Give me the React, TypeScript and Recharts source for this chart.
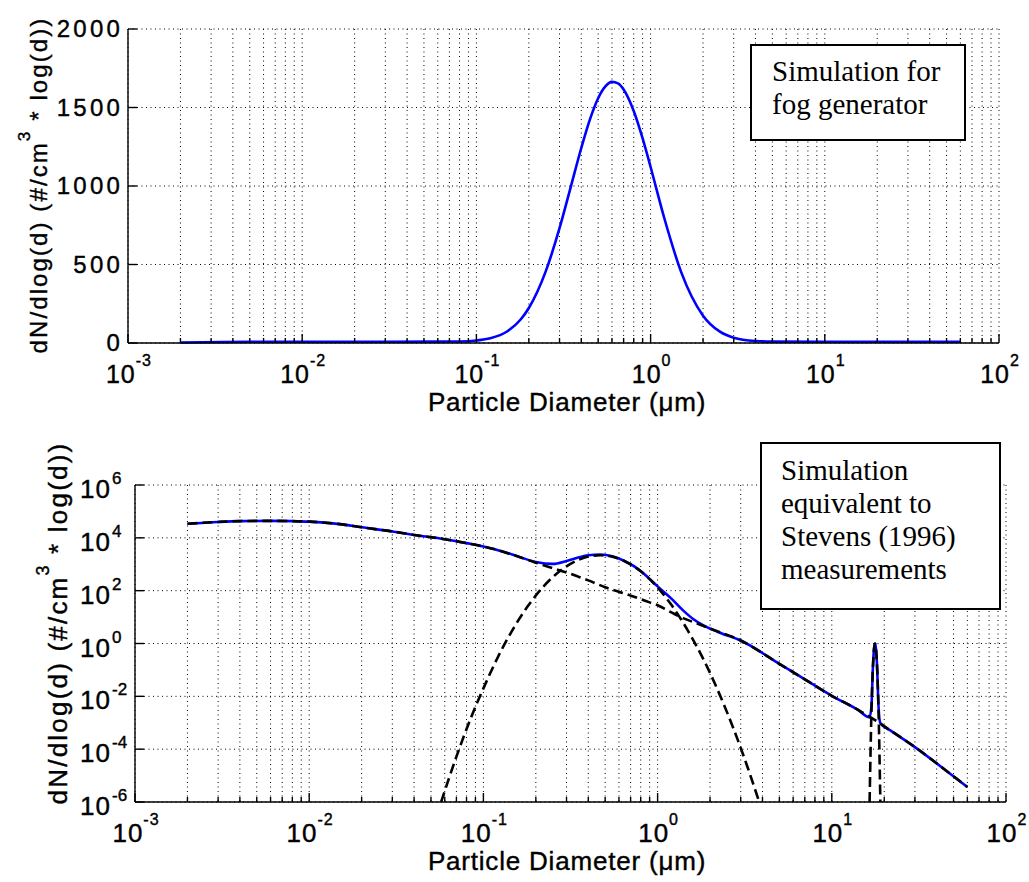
import { LineChart, Line, XAxis, YAxis, CartesianGrid, Label } from "recharts";

// x axis (particle diameter, µm) – decades and the minor ticks between them
const X_MAJOR = [0.001, 0.01, 0.1, 1, 10, 100];
const X_EXP = ["-3", "-2", "-1", "0", "1", "2"];
const X_MINOR = [
  0.002, 0.003, 0.004, 0.005, 0.006, 0.007, 0.008, 0.009,
  0.02, 0.03, 0.04, 0.05, 0.06, 0.07, 0.08, 0.09,
  0.2, 0.3, 0.4, 0.5, 0.6, 0.7, 0.8, 0.9,
  2, 3, 4, 5, 6, 7, 8, 9,
  20, 30, 40, 50, 60, 70, 80, 90,
];
const X_TICKS = [...X_MAJOR, ...X_MINOR].sort((a, b) => a - b);

// top panel: linear y
const FOG_Y_TICKS = [0, 500, 1000, 1500, 2000];

// bottom panel: log y
const LOG_Y_TICKS = [1e-6, 1e-4, 1e-2, 1, 1e2, 1e4, 1e6];
const LOG_Y_EXP = ["-6", "-4", "-2", "0", "2", "4", "6"];

// fog generator simulation
const FOG_D = [0.002, 0.005, 0.01, 0.03, 0.06, 0.08, 0.1, 0.12, 0.15, 0.18, 0.2, 0.25, 0.3, 0.35, 0.4, 0.45, 0.5, 0.55, 0.6, 0.65, 0.7, 0.8, 0.9, 1.0, 1.2, 1.5, 2.0, 2.5, 3.0, 4.0, 5.0, 10, 60];
const FOG_N = [3, 8, 8, 8, 9, 10, 16, 30, 73, 151, 223, 456, 731, 1004, 1242, 1429, 1559, 1634, 1663, 1654, 1615, 1478, 1303, 1121, 793, 450, 174, 72, 34, 13, 9, 8, 8];

// Stevens (1996) equivalent: total
const TOTAL_D = [0.002, 0.003, 0.004, 0.006, 0.008, 0.01, 0.015, 0.02, 0.03, 0.04, 0.06, 0.08, 0.1, 0.13, 0.16, 0.2, 0.25, 0.3, 0.35, 0.4, 0.47, 0.55, 0.65, 0.8, 0.9, 1.0, 1.2, 1.4, 1.6, 1.8, 2.2, 3.0, 5.0, 7.0, 10, 14, 16.48, 16.9, 17.22, 17.46, 17.7, 17.95, 18.2, 18.54, 19.0, 22, 30, 45, 60];
const TOTAL_N = [3.4e4, 4.0e4, 4.3e4, 4.4e4, 4.3e4, 4.1e4, 3.3e4, 2.5e4, 1.74e4, 1.29e4, 8.9e3, 6.3e3, 4.7e3, 3.0e3, 1.91e3, 1.22e3, 1.03e3, 1.33e3, 1.79e3, 2.2e3, 2.35e3, 2.0e3, 1.3e3, 560, 280, 145, 50, 18, 8.5, 5.2, 2.8, 1.3, 0.17, 4.4e-2, 1.05e-2, 3.2e-3, 1.6e-3, 4.6e-3, 0.127, 0.6, 1.0, 0.6, 0.127, 4.3e-3, 9.5e-4, 4.8e-4, 1.2e-4, 1.6e-5, 3.7e-6];

// broad mode
const MODE1_D = [0.002, 0.003, 0.004, 0.006, 0.008, 0.01, 0.015, 0.02, 0.03, 0.04, 0.06, 0.08, 0.1, 0.13, 0.16, 0.2, 0.25, 0.3, 0.35, 0.4, 0.5, 0.6, 0.7, 0.8, 0.9, 1.0, 1.2, 1.4, 1.7, 2.0, 3.0, 5.0, 7.0, 10, 14, 17.7, 22, 30, 45, 60];
const MODE1_N = [3.4e4, 4.0e4, 4.3e4, 4.4e4, 4.3e4, 4.1e4, 3.3e4, 2.5e4, 1.74e4, 1.29e4, 8.9e3, 6.3e3, 4.7e3, 3.0e3, 1.9e3, 1.15e3, 710, 490, 340, 245, 135, 91, 65, 48, 36, 28, 15, 9.1, 5.6, 3.7, 1.3, 0.17, 4.4e-2, 1.05e-2, 3.2e-3, 1.26e-3, 4.8e-4, 1.2e-4, 1.6e-5, 3.7e-6];

// fog mode
const MODE2_D = [0.0572, 0.07, 0.085, 0.1, 0.12, 0.15, 0.18, 0.22, 0.26, 0.3, 0.35, 0.4, 0.47, 0.55, 0.65, 0.8, 1.0, 1.2, 1.5, 1.8, 2.2, 2.7, 3.3, 3.83];
const MODE2_N = [1e-6, 5.2e-5, 1.6e-3, 2.0e-2, 0.27, 4.1, 26, 138, 410, 835, 1450, 1950, 2190, 1920, 1290, 540, 132, 29, 2.9, 0.32, 1.9e-2, 7.1e-4, 1.9e-5, 1e-6];

// narrow mode near 18 µm
const MODE3_D = [16.48, 16.9, 17.22, 17.46, 17.7, 17.95, 18.2, 18.54, 19.0];
const MODE3_N = [1e-6, 3.2e-3, 0.126, 0.6, 1.0, 0.6, 0.126, 3.2e-3, 1e-6];

const toRows = (d: number[], n: number[]) => d.map((x, i) => ({ d: x, n: n[i] }));
const fogRows = toRows(FOG_D, FOG_N);
const totalRows = toRows(TOTAL_D, TOTAL_N);
const mode1Rows = toRows(MODE1_D, MODE1_N);
const mode2Rows = toRows(MODE2_D, MODE2_N);
const mode3Rows = toRows(MODE3_D, MODE3_N);

const SANS = "'Liberation Sans', Arial, Helvetica, sans-serif";
const SERIF = "'Liberation Serif', 'Times New Roman', serif";
const AXIS_W = 1.4;
const MAJOR_LEN = 9;
const MINOR_LEN = 5;
// MATLAB's axis text is a little heavier than plain Liberation Sans
const TXT = { fontFamily: SANS, fill: "#000", stroke: "#000", strokeWidth: 0.4 };

// bottom x ticks: inward tick mark + "10^n" label on the decades
function XTickBottom(props: any) {
  const { x, y, payload, fs, sup, base, supDy } = props;
  const i = X_MAJOR.indexOf(payload.value);
  const len = i >= 0 ? MAJOR_LEN : MINOR_LEN;
  return (
    <g>
      <line x1={x} y1={y} x2={x} y2={y - len} stroke="#000" strokeWidth={AXIS_W} />
      {i >= 0 && (
        <text x={x + 1} y={y + base} textAnchor="middle" fontSize={fs} letterSpacing={1} {...TXT}>
          10<tspan dy={supDy} fontSize={sup}>{X_EXP[i]}</tspan>
        </text>
      )}
    </g>
  );
}

function XTickTop(props: any) {
  const { x, y, payload } = props;
  const len = X_MAJOR.indexOf(payload.value) >= 0 ? MAJOR_LEN : MINOR_LEN;
  return <line x1={x} y1={y} x2={x} y2={y + len} stroke="#000" strokeWidth={AXIS_W} />;
}

function YTickLinear(props: any) {
  const { x, y, payload } = props;
  return (
    <g>
      <line x1={x} y1={y} x2={x + MAJOR_LEN} y2={y} stroke="#000" strokeWidth={AXIS_W} />
      <text x={x - 5} y={y + 8} textAnchor="end" fontSize={24} letterSpacing={3.2} {...TXT}>
        {payload.value}
      </text>
    </g>
  );
}

function YTickLog(props: any) {
  const { x, y, payload } = props;
  const i = LOG_Y_TICKS.indexOf(payload.value);
  return (
    <g>
      <line x1={x} y1={y} x2={x + MAJOR_LEN} y2={y} stroke="#000" strokeWidth={AXIS_W} />
      <text x={x - 24} y={y + 13} textAnchor="end" fontSize={26} letterSpacing={1} {...TXT}>
        10
      </text>
      <text x={x - 23} y={y - 1} textAnchor="start" fontSize={17} {...TXT}>
        {LOG_Y_EXP[i]}
      </text>
    </g>
  );
}

function YTickRight(props: any) {
  const { x, y } = props;
  return <line x1={x} y1={y} x2={x - MAJOR_LEN} y2={y} stroke="#000" strokeWidth={AXIS_W} />;
}

function XTitle({ cx, y }: { cx: number; y: number }) {
  return (
    <text x={cx} y={y} textAnchor="middle" fontSize={26} letterSpacing={0.8} {...TXT}>
      Particle Diameter (<tspan>μ</tspan>m)
    </text>
  );
}

function YTitle({ x, cy, fs, ls, sup, supDy }: { x: number; cy: number; fs: number; ls: number; sup: number; supDy: number }) {
  return (
    <text transform={`translate(${x},${cy}) rotate(-90)`} textAnchor="middle" fontSize={fs} letterSpacing={ls} {...TXT}>
      {"dN/dlog(d) (#/cm"}<tspan dy={supDy} fontSize={sup}>3</tspan>
      <tspan dy={-supDy}>{" * log(d))"}</tspan>
    </text>
  );
}

const boxStyle = {
  position: "absolute" as const,
  boxSizing: "border-box" as const,
  background: "#fff",
  border: "2px solid #000",
  fontFamily: SERIF,
  fontSize: 29,
  lineHeight: "33.3px",
  color: "#000",
  whiteSpace: "nowrap" as const,
  zIndex: 2,
};

export default function App() {
  return (
    <div style={{ position: "absolute", left: 0, top: 0, width: 1029, height: 882, background: "#fff", overflow: "hidden" }}>
      <div style={{ position: "absolute", left: 0, top: 0 }}>
        <LineChart width={1029} height={420} margin={{ top: 29, right: 30, bottom: 0, left: 0 }}>
          <CartesianGrid stroke="#000" strokeWidth={1} strokeDasharray="1 3.5" />
          <XAxis
            dataKey="d"
            type="number"
            scale="log"
            domain={[0.001, 100]}
            allowDataOverflow
            ticks={X_TICKS}
            interval={0}
            height={77}
            tickSize={0}
            tickMargin={0}
            tickLine={false}
            axisLine={{ stroke: "#000", strokeWidth: AXIS_W }}
            tick={<XTickBottom fs={25} sup={16} base={39.5} supDy={-17} />}
          >
            <Label content={() => <XTitle cx={567} y={411} />} />
          </XAxis>
          <XAxis
            xAxisId="top"
            orientation="top"
            dataKey="d"
            type="number"
            scale="log"
            domain={[0.001, 100]}
            allowDataOverflow
            ticks={X_TICKS}
            interval={0}
            height={0}
            tickSize={0}
            tickMargin={0}
            tickLine={false}
            axisLine={{ stroke: "#000", strokeWidth: AXIS_W }}
            tick={<XTickTop />}
          />
          <YAxis
            type="number"
            domain={[0, 2000]}
            ticks={FOG_Y_TICKS}
            interval={0}
            width={128}
            tickSize={0}
            tickMargin={0}
            tickLine={false}
            axisLine={{ stroke: "#000", strokeWidth: AXIS_W }}
            tick={<YTickLinear />}
          >
            <Label content={() => <YTitle x={47} cy={185} fs={24} ls={2.1} sup={17} supDy={-17} />} />
          </YAxis>
          <YAxis
            yAxisId="right"
            orientation="right"
            type="number"
            domain={[0, 2000]}
            ticks={FOG_Y_TICKS}
            interval={0}
            width={0}
            tickSize={0}
            tickMargin={0}
            tickLine={false}
            axisLine={{ stroke: "#000", strokeWidth: AXIS_W }}
            tick={<YTickRight />}
          />
          <Line data={fogRows} dataKey="n" type="monotone" stroke="#0000ff" strokeWidth={2.6} dot={false} isAnimationActive={false} />
        </LineChart>
      </div>

      <div style={{ ...boxStyle, left: 750, top: 44, width: 216, height: 97, paddingLeft: 20, paddingTop: 9 }}>
        Simulation for
        <br />
        fog generator
      </div>

      <div style={{ position: "absolute", left: 0, top: 420 }}>
        <LineChart width={1029} height={462} margin={{ top: 65, right: 23, bottom: 0, left: 0 }}>
          <CartesianGrid stroke="#000" strokeWidth={1} strokeDasharray="1 3.5" />
          <XAxis
            dataKey="d"
            type="number"
            scale="log"
            domain={[0.001, 100]}
            allowDataOverflow
            ticks={X_TICKS}
            interval={0}
            height={80}
            tickSize={0}
            tickMargin={0}
            tickLine={false}
            axisLine={{ stroke: "#000", strokeWidth: AXIS_W }}
            tick={<XTickBottom fs={26} sup={16} base={40} supDy={-17} />}
          >
            <Label content={() => <XTitle cx={567} y={450} />} />
          </XAxis>
          <XAxis
            xAxisId="top"
            orientation="top"
            dataKey="d"
            type="number"
            scale="log"
            domain={[0.001, 100]}
            allowDataOverflow
            ticks={X_TICKS}
            interval={0}
            height={0}
            tickSize={0}
            tickMargin={0}
            tickLine={false}
            axisLine={{ stroke: "#000", strokeWidth: AXIS_W }}
            tick={<XTickTop />}
          />
          <YAxis
            type="number"
            scale="log"
            domain={[1e-6, 1e6]}
            allowDataOverflow
            ticks={LOG_Y_TICKS}
            interval={0}
            width={135}
            tickSize={0}
            tickMargin={0}
            tickLine={false}
            axisLine={{ stroke: "#000", strokeWidth: AXIS_W }}
            tick={<YTickLog />}
          >
            <Label content={() => <YTitle x={67} cy={203} fs={26} ls={2.2} sup={18} supDy={-18} />} />
          </YAxis>
          <YAxis
            yAxisId="right"
            orientation="right"
            type="number"
            scale="log"
            domain={[1e-6, 1e6]}
            allowDataOverflow
            ticks={LOG_Y_TICKS}
            interval={0}
            width={0}
            tickSize={0}
            tickMargin={0}
            tickLine={false}
            axisLine={{ stroke: "#000", strokeWidth: AXIS_W }}
            tick={<YTickRight />}
          />
          <Line data={totalRows} dataKey="n" type="monotone" stroke="#0000ff" strokeWidth={2.6} dot={false} isAnimationActive={false} />
          <Line data={mode1Rows} dataKey="n" type="monotone" stroke="#000" strokeWidth={2.6} strokeDasharray="10 5" dot={false} isAnimationActive={false} />
          <Line data={mode2Rows} dataKey="n" type="monotone" stroke="#000" strokeWidth={2.6} strokeDasharray="10 5" dot={false} isAnimationActive={false} />
          <Line data={mode3Rows} dataKey="n" type="monotone" stroke="#000" strokeWidth={2.6} strokeDasharray="10 5" dot={false} isAnimationActive={false} />
        </LineChart>
      </div>

      <div style={{ ...boxStyle, left: 760, top: 442, width: 241, height: 168, paddingLeft: 19, paddingTop: 9.5 }}>
        Simulation
        <br />
        equivalent to
        <br />
        Stevens (1996)
        <br />
        measurements
      </div>
    </div>
  );
}
